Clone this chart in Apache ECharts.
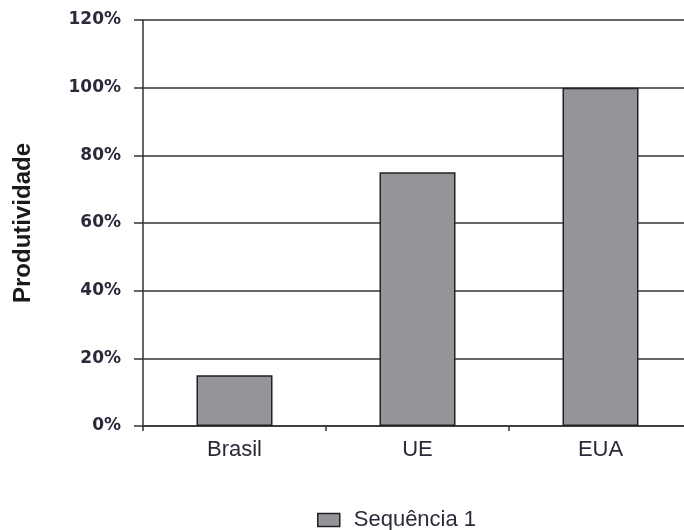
<!DOCTYPE html>
<html>
<head>
<meta charset="utf-8">
<script src="https://cdn.jsdelivr.net/npm/echarts@6/dist/echarts.min.js"></script>
<style>
  html, body { margin: 0; padding: 0; background: #fff; }
  #main { width: 684px; height: 530px; }
</style>
</head>
<body>
<div id="main"></div>
<script>
// dados do gráfico
const categorias = ['Brasil', 'UE', 'EUA']
const valores = [15, 75, 100]
const serieNome = 'Sequência 1'

const chart = echarts.init(document.querySelector('#main'))
const option = {
  animation: false,
  grid: {
    left: 143,
    width: 549,
    top: 20,
    bottom: 104,
    outerBoundsMode: 'none'
  },
  legend: {
    top: 504,
    left: 312,
    icon: 'rect',
    itemWidth: 22,
    itemHeight: 13,
    itemGap: 12,
    itemStyle: { borderColor: '#222', borderWidth: 1.5 },
    textStyle: {
      fontFamily: 'Liberation Sans, Arial, sans-serif',
      fontSize: 22,
      color: '#2a2a3a',
      padding: [0, 0, 0, 9]
    },
    data: [serieNome]
  },
  xAxis: {
    type: 'category',
    data: categorias,
    axisLine: { lineStyle: { color: '#333', width: 1.5 } },
    axisTick: { show: true, length: 5, lineStyle: { color: '#333', width: 1.5 } },
    axisLabel: {
      margin: 13,
      fontFamily: 'Liberation Sans, Arial, sans-serif',
      fontSize: 22,
      color: '#2a2a3a'
    }
  },
  yAxis: {
    type: 'value',
    min: 0,
    max: 120,
    interval: 20,
    name: 'Produtividade',
    nameLocation: 'middle',
    nameGap: 108,
    nameRotate: 90,
    nameTextStyle: {
      fontFamily: 'Liberation Sans, Arial, sans-serif',
      fontWeight: 'bold',
      fontSize: 24,
      color: '#1a1a1a'
    },
    axisLine: { show: true, lineStyle: { color: '#333', width: 1.5 } },
    axisTick: { show: true, length: 9, lineStyle: { color: '#333', width: 1.5 } },
    axisLabel: {
      margin: 22,
      formatter: '{value}%',
      fontFamily: 'DejaVu Sans, sans-serif',
      fontWeight: 'bold',
      fontSize: 17,
      color: '#2a2a3a'
    },
    splitLine: { lineStyle: { color: '#333', width: 1.5 } }
  },
  series: [
    {
      name: serieNome,
      type: 'bar',
      data: valores,
      barWidth: 76,
      itemStyle: {
        color: '#939598',
        borderColor: '#222',
        borderWidth: 1.5
      }
    }
  ]
}
chart.setOption(option)
</script>
</body>
</html>
